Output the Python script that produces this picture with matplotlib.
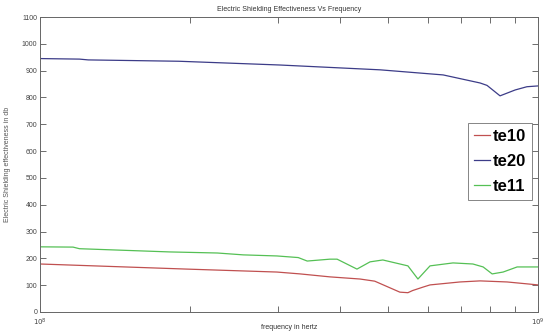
import numpy as np
import matplotlib
matplotlib.use('Agg')
import matplotlib.pyplot as plt
from matplotlib.ticker import LogLocator, NullFormatter, FixedLocator

plt.rcParams['font.family'] = ['Liberation Sans', 'DejaVu Sans']

# frequencies in hertz, values in db
freq_te10 = [1.0e8, 1.97e8, 2.99e8, 3.33e8, 3.82e8, 4.39e8, 4.7e8, 5.28e8, 5.48e8,
             5.6e8, 5.88e8, 6.07e8, 6.97e8, 7.65e8, 8.67e8, 1.0e9]
te10 = [179, 160, 149, 142, 131, 123, 115, 74, 72, 80, 93, 101, 112, 116, 112, 101]

freq_te20 = [1.0e8, 1.2e8, 1.25e8, 1.9e8, 3.03e8, 4.82e8, 6.45e8, 7.65e8, 7.9e8,
             8.39e8, 9.0e8, 9.5e8, 1.0e9]
te20 = [945, 943, 940, 935, 921, 903, 884, 854, 845, 806, 828, 840, 843]

freq_te11 = [1.0e8, 1.165e8, 1.2e8, 1.82e8, 2.27e8, 2.56e8, 2.99e8, 3.3e8, 3.44e8,
             3.82e8, 3.95e8, 4.33e8, 4.6e8, 4.88e8, 5.48e8, 5.74e8, 6.07e8, 6.75e8,
             7.4e8, 7.76e8, 8.09e8, 8.51e8, 9.08e8, 1.0e9]
te11 = [243, 242, 236, 224, 220, 213, 209, 203, 190, 197, 197, 160, 187, 194, 172,
        123, 172, 183, 179, 168, 142, 149, 168, 168]

fig = plt.figure(figsize=(5.48, 3.36), dpi=100)
ax = fig.add_axes([40 / 548, 24 / 336, 498 / 548, 295 / 336])

ax.plot(freq_te10, te10, color='#c05050', lw=0.9, label='te10')
ax.plot(freq_te20, te20, color='#3c3c88', lw=0.9, label='te20')
ax.plot(freq_te11, te11, color='#55c055', lw=0.9, label='te11')

ax.set_xscale('log')
ax.set_xlim(1e8, 1e9)
ax.set_ylim(0, 1100)
ax.yaxis.set_major_locator(FixedLocator(np.arange(0, 1101, 100)))
ax.xaxis.set_major_locator(FixedLocator([1e8, 1e9]))
ax.xaxis.set_minor_locator(LogLocator(base=10, subs=np.arange(2, 10)))
ax.xaxis.set_minor_formatter(NullFormatter())
ax.set_xticklabels([r'$10^8$', r'$10^9$'])

ax.tick_params(which='both', direction='in', top=True, right=True,
               labelsize=5, colors='#555555', labelcolor='#444444')
ax.tick_params(which='major', length=4, width=0.6, pad=2)
ax.tick_params(axis='x', which='major', pad=3.5)
ax.tick_params(which='minor', length=4, width=0.6)
for s in ax.spines.values():
    s.set_color('#666666')
    s.set_linewidth(0.7)

ax.set_title('Electric Shielding Effectiveness Vs Frequency', fontsize=5,
             color='#333333', pad=4)
ax.set_xlabel('frequency in hertz', fontsize=5, color='#333333')
ax.xaxis.set_label_coords(0.5, -0.04)
ax.set_ylabel('Electric Shielding effectiveness in db', fontsize=5,
              color='#555555', labelpad=8)

leg = ax.legend(loc='upper right', bbox_to_anchor=(0.988, 0.641), borderaxespad=0,
                fancybox=False, handlelength=1.0, handletextpad=0.15,
                borderpad=0.35, labelspacing=0.6,
                prop={'weight': 'bold', 'size': 12})
leg.get_frame().set_edgecolor('#666666')
leg.get_frame().set_linewidth(0.7)

fig.savefig('out.png', dpi=100)
